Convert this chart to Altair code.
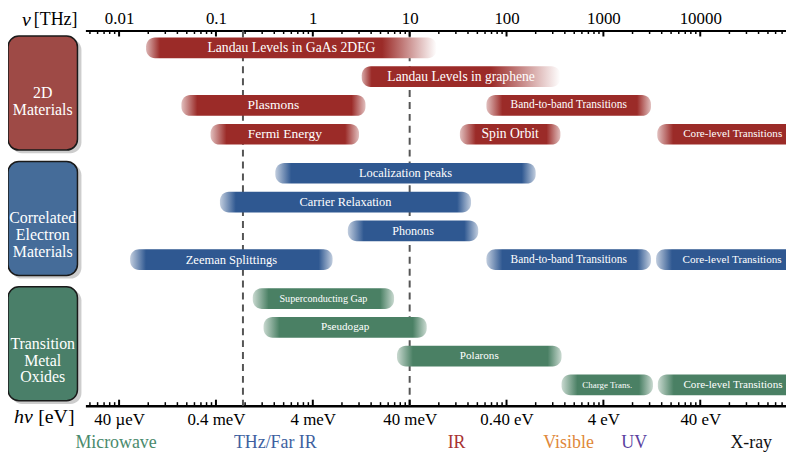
import math
import altair as alt
import pandas as pd

# ---------------- data ----------------
bar_labels = ["Landau Levels in GaAs 2DEG", "Landau Levels in graphene", "Plasmons",
              "Band-to-band Transitions", "Fermi Energy", "Spin Orbit", "Core-level Transitions",
              "Localization peaks", "Carrier Relaxation", "Phonons", "Zeeman Splittings",
              "Band-to-band Transitions", "Core-level Transitions",
              "Superconducting Gap", "Pseudogap", "Polarons", "Charge Trans.", "Core-level Transitions"]
bar_start = [0.019, 3.2, 0.044, 62, 0.088, 33, 3600,
             0.41, 0.11, 2.3, 0.013, 62, 3500,
             0.24, 0.31, 7.4, 370, 3650]
bar_end = [19, 360, 3.5, 3100, 3.0, 360, 130000,
           200, 43, 51, 1.6, 3100, 130000,
           6.9, 15, 370, 3250, 130000]
bar_row = [0, 1, 2, 2, 3, 3, 3, 4, 5, 6, 7, 7, 7, 8, 9, 10, 11, 11]
bar_group = [0] * 7 + [1] * 6 + [2] * 5

group_names = ["2D\nMaterials", "Correlated\nElectron\nMaterials", "Transition\nMetal\nOxides"]
group_first = [0, 4, 8]
group_last = [3, 7, 11]

markers = [0.19, 10]

top_values = [0.01, 0.1, 1, 10, 100, 1000, 10000]
top_labels = ["0.01", "0.1", "1", "10", "100", "1000", "10000"]
bottom_labels = ["40 µeV", "0.4 meV", "4 meV", "40 meV", "0.40 eV", "4 eV", "40 eV"]

region_names = ["Microwave", "THz/Far IR", "IR", "Visible", "UV", "X-ray"]
region_center = [0.0093, 0.41, 30.5, 437, 2080, 33600]

# ---------------- styles ----------------
bar_colors = ["#9b2b28", "#2f5891", "#4a8064"]
box_colors = ["#9e4a46", "#456c99", "#4a7f69"]
region_colors = ["#4a8a6c", "#3e5fa0", "#a83232", "#e0883a", "#5a3fa0", "#111111"]
label_sizes = [13.8, 13.7, 13.6, 11.5, 13.6, 13.8, 11.2,
               12.5, 12.5, 12.2, 12.6, 11.5, 11.2,
               10.2, 11.2, 11.2, 9, 11.2]
# (left fade px, right fade px, left end alpha, right end alpha)
fades = [(14, 55, 0.35, 0.0), (10, 70, 0.4, 0.0)] + [(16, 14, 0.3, 0.3)] * 16

W, H = 706, 378
XMIN, XMAX = 0.00449, 76800
SERIF = "Liberation Serif"
GAP = 0.355

lo, hi = math.log10(XMIN), math.log10(XMAX)


def px(f):
    return (math.log10(f) - lo) / (hi - lo) * W


def mix(hexc, a):
    r, g, b = int(hexc[1:3], 16), int(hexc[3:5], 16), int(hexc[5:7], 16)
    r = round(r * a + 255 * (1 - a))
    g = round(g * a + 255 * (1 - a))
    b = round(b * a + 255 * (1 - a))
    return "#%02x%02x%02x" % (r, g, b)


bars = pd.DataFrame({
    "id": list(range(len(bar_labels))),
    "label": bar_labels, "start": bar_start, "end": bar_end,
    "row": bar_row, "group": bar_group, "fs": label_sizes,
})

xscale = alt.Scale(type="log", domain=[XMIN, XMAX], nice=False, zero=False)
yscale = alt.Scale(domain=[-17.5 / 29, (H - 17.5) / 29], reverse=True, nice=False, zero=False)

slot_expr = f"datum.row + {GAP} * datum.group"

layers = []

# dashed marker lines
layers.append(
    alt.Chart(pd.DataFrame({"f": markers})).mark_rule(
        color="#555555", strokeWidth=2, strokeDash=[7, 5]
    ).encode(x=alt.X("f:Q", scale=xscale, axis=None))
)

# ticks
ticks_major = [10.0 ** k for k in range(-2, 5)]
ticks_minor = [m * 10.0 ** k for k in range(-3, 5) for m in range(2, 10)
               if XMIN <= m * 10.0 ** k <= XMAX]
tmaj = pd.DataFrame({"t": ticks_major})
tmin = pd.DataFrame({"t": ticks_minor})

top_expr = "[" + ",".join(f"'{s}'" for s in top_labels) + "][round(log(datum.value)/LN10)+2]"
bot_expr = "[" + ",".join(f"'{s}'" for s in bottom_labels) + "][round(log(datum.value)/LN10)+2]"

axis_common = dict(values=top_values, ticks=False, tickSize=0, grid=False, title=None,
                   domain=True, domainColor="black", labelFont=SERIF, labelFontSize=17,
                   labelColor="black", labelOverlap=False)

layers.append(
    alt.Chart(tmaj).mark_rule(color="black", strokeWidth=2).encode(
        x=alt.X("t:Q", scale=xscale,
                axis=alt.Axis(orient="top", labelExpr=top_expr, domainWidth=2,
                              labelPadding=3, **axis_common)),
        y=alt.value(0), y2=alt.value(6))
)
layers.append(
    alt.Chart(tmaj).mark_rule(color="black", strokeWidth=2).encode(
        x=alt.X("t:Q", scale=xscale,
                axis=alt.Axis(orient="bottom", labelExpr=bot_expr, domainWidth=2.5,
                              labelPadding=6, **axis_common)),
        y=alt.value(H), y2=alt.value(H - 6))
)
layers.append(
    alt.Chart(tmin).mark_rule(color="black", strokeWidth=1.5).encode(
        x=alt.X("t:Q", scale=xscale, axis=None), y=alt.value(0), y2=alt.value(3.5))
)
layers.append(
    alt.Chart(tmin).mark_rule(color="black", strokeWidth=1.5).encode(
        x=alt.X("t:Q", scale=xscale, axis=None), y=alt.value(H), y2=alt.value(H - 3.5))
)

# bars, each with its own fading gradient
for i in range(len(bar_labels)):
    c = bar_colors[bar_group[i]]
    fl, fr, al, ar = fades[i]
    w = px(bar_end[i]) - px(bar_start[i])
    o1 = min(fl / w, 0.45)
    o2 = max(1 - fr / w, 0.55)
    grad = {"gradient": "linear", "x1": 0, "x2": 1, "y1": 0, "y2": 0,
            "stops": [{"offset": 0, "color": mix(c, al)},
                      {"offset": o1, "color": c},
                      {"offset": o2, "color": c},
                      {"offset": 1, "color": mix(c, ar)}]}
    yaxis = alt.Axis(domain=True, domainWidth=3, domainColor="black", labels=False,
                     ticks=False, grid=False, title=None) if i == 0 else None
    layers.append(
        alt.Chart(bars).transform_filter(alt.datum.id == i)
        .transform_calculate(slot=slot_expr)
        .transform_calculate(y1="datum.slot - 0.36", y2="datum.slot + 0.36")
        .mark_rect(fill=grad, cornerRadius=9, clip=True)
        .encode(x=alt.X("start:Q", scale=xscale, axis=None), x2="end:Q",
                y=alt.Y("y1:Q", scale=yscale, axis=yaxis), y2="y2:Q")
    )

# bar labels (centred on the bar in log space)
layers.append(
    alt.Chart(bars)
    .transform_calculate(slot=slot_expr)
    .transform_calculate(mid="exp((log(datum.start) + log(datum.end)) / 2)")
    .mark_text(color="white", font=SERIF, baseline="middle", align="center")
    .encode(x=alt.X("mid:Q", scale=xscale, axis=None),
            y=alt.Y("slot:Q", scale=yscale, axis=None),
            text="label:N", size=alt.Size("fs:Q", scale=None, legend=None))
)

# category boxes
groups = pd.DataFrame({"name": group_names, "group": [0, 1, 2],
                       "first": group_first, "last": group_last, "color": box_colors})
gbase = alt.Chart(groups).transform_calculate(
    b1=f"datum.first + {GAP} * datum.group - 0.41",
    b2=f"datum.last + {GAP} * datum.group + 0.55",
    s1=f"datum.first + {GAP} * datum.group - 0.31",
    s2=f"datum.last + {GAP} * datum.group + 0.66",
    mid=f"(datum.first + datum.last) / 2 + {GAP} * datum.group + 0.07",
)
layers.append(
    gbase.mark_rect(color="#b8b8b8", opacity=0.7, cornerRadius=11).encode(
        x=alt.value(-75), x2=alt.value(-4),
        y=alt.Y("s1:Q", scale=yscale, axis=None), y2="s2:Q")
)
layers.append(
    gbase.mark_rect(cornerRadius=11, stroke="#1a1a1a", strokeWidth=1.5).encode(
        x=alt.value(-78), x2=alt.value(-8),
        y=alt.Y("b1:Q", scale=yscale, axis=None), y2="b2:Q",
        fill=alt.Fill("color:N", scale=None, legend=None))
)
layers.append(
    gbase.mark_text(color="white", font=SERIF, fontSize=16, lineBreak="\n", lineHeight=17,
                    align="center", baseline="middle").encode(
        x=alt.value(-43), y=alt.Y("mid:Q", scale=yscale, axis=None), text="name:N")
)

# axis titles
titles = pd.DataFrame({"t": ["ν", "[THz]", "hν", "[eV]"],
                       "style": ["italic", "normal", "italic", "normal"],
                       "fs": [20, 18, 20, 20]})
title_pos = [(-55, -11), (-8, -11), (-53, 389), (-11, 389)]
for (tx, ty), (_, r) in zip(title_pos, titles.iterrows()):
    layers.append(
        alt.Chart(pd.DataFrame([r])).mark_text(
            font=SERIF, fontSize=float(r["fs"]), fontStyle=r["style"], align="right",
            baseline="middle", color="black").encode(
            x=alt.value(tx), y=alt.value(ty), text="t:N")
    )

# spectral regions
regions = pd.DataFrame({"name": region_names, "f": region_center, "color": region_colors})
layers.append(
    alt.Chart(regions).mark_text(font=SERIF, fontSize=18, baseline="middle", align="center")
    .encode(x=alt.X("f:Q", scale=xscale, axis=None), y=alt.value(416), text="name:N",
            color=alt.Color("color:N", scale=None, legend=None))
)

chart = alt.layer(*layers).properties(
    width=W, height=H,
    autosize=alt.AutoSizeParams(type="none"),
    padding={"left": 78, "top": 21, "right": 0, "bottom": 47},
    background="white",
).configure_view(stroke=None)

chart.save("out.html", embed_options={"renderer": "svg", "actions": False})
